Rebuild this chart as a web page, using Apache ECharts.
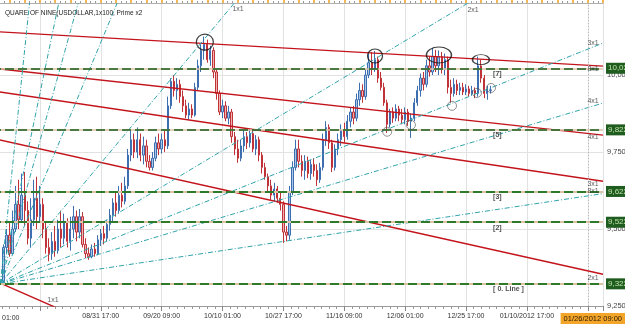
<!DOCTYPE html>
<html><head><meta charset="utf-8">
<script src="https://cdn.jsdelivr.net/npm/echarts@6/dist/echarts.min.js"></script>
<style>html,body{margin:0;padding:0;background:#fff}#c{width:625px;height:324px}</style>
</head><body><div id="c"></div>
<script>
// ---------- data ----------
const firstBar = 8;
// [open, close, low, high]
const candles = [
[9330,9440,9322,9450],[9440,9480,9420,9500],[9480,9420,9410,9520],[9420,9500,9415,9560],[9500,9580,9490,9640],
[9580,9530,9500,9660],[9530,9610,9520,9680],[9610,9560,9510,9685],[9560,9470,9450,9590],[9470,9530,9440,9600],
[9530,9600,9510,9660],[9600,9540,9500,9670],[9540,9580,9520,9640],[9580,9500,9470,9600],[9500,9440,9420,9520],
[9440,9420,9395,9470],[9420,9460,9400,9490],[9460,9430,9410,9510],[9430,9500,9420,9530],[9500,9470,9440,9560],
[9470,9520,9450,9550],[9520,9460,9440,9535],[9460,9500,9430,9540],[9500,9540,9470,9575],[9540,9490,9460,9560],
[9490,9540,9470,9565],[9540,9450,9440,9555],[9450,9420,9405,9470],[9420,9410,9400,9440],[9410,9435,9405,9450],
[9435,9420,9410,9455],[9420,9465,9415,9480],[9465,9485,9445,9500],[9485,9470,9450,9510],[9470,9515,9460,9530],
[9515,9545,9495,9565],[9545,9585,9525,9600],[9585,9560,9540,9620],[9560,9610,9550,9640],[9610,9590,9570,9650],
[9590,9640,9580,9670],[9640,9740,9630,9760],[9740,9790,9720,9820],[9790,9750,9730,9810],[9750,9790,9730,9830],
[9790,9740,9720,9810],[9740,9770,9710,9800],[9770,9720,9700,9790],[9720,9700,9690,9740],[9700,9730,9690,9750],
[9730,9780,9720,9800],[9780,9760,9740,9810],[9760,9790,9745,9810],[9790,9770,9750,9820],[9770,9900,9760,9930],
[9900,9980,9890,9990],[9980,9950,9930,10000],[9950,9970,9920,9990],[9970,9930,9910,9985],[9930,9900,9880,9950],
[9900,9870,9860,9920],[9870,9890,9855,9910],[9890,9870,9860,9905],[9870,9960,9865,9975],[9960,10030,9950,10050],
[10030,10080,10010,10100],[10080,10100,10050,10125],[10100,10050,10040,10115],[10050,10080,10030,10095],[10080,10010,9990,10090],
[10010,9940,9920,10020],[9940,9880,9870,9950],[9880,9900,9860,9920],[9900,9860,9850,9915],[9860,9880,9840,9900],
[9880,9800,9780,9890],[9800,9760,9740,9815],[9760,9730,9715,9790],[9730,9770,9720,9790],[9770,9800,9750,9820],
[9800,9780,9760,9815],[9780,9810,9765,9825],[9810,9760,9750,9820],[9760,9790,9740,9805],[9790,9740,9720,9800],
[9740,9700,9680,9750],[9700,9670,9660,9715],[9670,9640,9620,9680],[9640,9610,9595,9660],[9610,9630,9590,9650],
[9630,9600,9585,9640],[9600,9580,9560,9620],[9580,9490,9455,9590],[9490,9480,9460,9510],[9480,9620,9465,9640],
[9620,9700,9610,9720],[9700,9760,9690,9790],[9760,9720,9700,9790],[9720,9690,9670,9740],[9690,9720,9660,9740],
[9720,9680,9665,9735],[9680,9710,9660,9725],[9710,9690,9670,9730],[9690,9660,9640,9710],[9660,9700,9650,9715],
[9700,9790,9690,9810],[9790,9830,9770,9850],[9830,9780,9760,9840],[9780,9700,9685,9790],[9700,9760,9690,9775],
[9760,9790,9740,9810],[9790,9820,9770,9840],[9820,9800,9780,9845],[9800,9850,9790,9870],[9850,9880,9830,9895],
[9880,9860,9840,9900],[9860,9920,9850,9940],[9920,9950,9900,9975],[9950,9930,9910,9970],[9930,10000,9920,10020],
[10000,10040,9990,10070],[10040,10020,10000,10075],[10020,10050,10010,10078],[10050,9990,9975,10060],[9990,9960,9950,10010],
[9960,9910,9900,9975],[9910,9840,9812,9920],[9840,9880,9830,9890],[9880,9860,9845,9895],[9860,9890,9850,9905],
[9890,9870,9850,9900],[9870,9855,9840,9890],[9855,9880,9840,9895],[9880,9850,9835,9890],[9850,9860,9796,9875],
[9860,9910,9850,9925],[9910,9950,9900,9965],[9950,9990,9930,10005],[9990,9970,9950,10010],[9970,10030,9960,10050],
[10030,10010,9995,10060],[10010,10060,10000,10088],[10060,10030,10010,10082],[10030,10060,10000,10080],[10060,10020,10005,10075],
[10020,10050,10000,10070],[10050,9960,9940,10060],[9960,9940,9910,9985],[9940,9970,9930,9990],[9970,9950,9935,9985],
[9950,9960,9935,9975],[9960,9945,9935,9975],[9945,9955,9935,9970],[9955,9940,9930,9965],[9940,9950,9935,9965],
[9950,9940,9925,9960],[9940,10030,9930,10060],[10030,9990,9975,10050],[9990,9940,9925,10000],[9940,9950,9920,9965],
[9950,9952,9940,9965]
];
const xTickIndex = [40,60,80,100,120,140,160,180];
const xTickText = ['08/31 17:00','09/20 09:00','10/10 01:00','10/27 17:00','11/16 09:00','12/06 01:00','12/25 17:00','01/10/2012 17:00'];
const levels = [10022, 9822, 9622, 9522, 9322];
const levelTags = ['[7]','[5]','[3]','[2]','[ 0. Line ]'];
const lastPrice = 9952;
const rangeHigh = 10216;
// descending (red) fan: value at index 0 and index 205
const redFanNames = ['8x1','4x1','3x1','2x1','1x1'];
const redFanStart = [10144, 10027, 9955, 9804, 9355];
const redFanEnd   = [10029, 9805, 9655, 9353, 8462];
// ascending (teal) fan from the low
const tealOrigin = [7, 9322];
const tealFanNames = ['1x8','1x4','1x3','1x2','1x1','2x1','3x1','4x1','8x1'];
const tealFanEnd = [[16.6,10234],[26.2,10234],[32.6,10234],[45.4,10234],[83.9,10234],[160.7,10234],[205,10104],[205,9909],[205,9615]];
// annotations
const peakRings = [[74.2,10107],[130.1,10062],[151.1,10065],[164.9,10050]];
const peakRingSize = [[17,16],[15,14],[25,16],[17,10]];
const lowRings = [[134.1,9816],[141.9,9838],[155.4,9900],[163.6,9942],[168.2,9958]];
const rightTags = ['3x1','8x1','4x1','4x1','3x1','8x1','2x1'];
const rightTagVals = [10104,10020,9916,9799,9646,9624,9341];
const topTags = [['1x1',85.1,10213],['2x1',162.3,10211],['1x1',24.3,9270]];

// ---------- chart ----------
const FONT = 'Liberation Sans';
const fmt = v => String(Math.round(v)).replace(/\B(?=(\d{3})+(?!\d))/g, ',');
const chart = echarts.init(document.getElementById('c'), null, {renderer:'canvas'});
const series = [];

series.push({
  type:'candlestick', name:'USDOLLAR', z:3,
  data: candles.map((d,k)=>[firstBar+k, d[0], d[1], d[2], d[3]]),
  barWidth: 1.8,
  itemStyle:{color:'#a9c6e8', color0:'#f2b3b3', borderColor:'#3d6eb0', borderColor0:'#bf3338', borderWidth:1}
});

redFanNames.forEach((n,k)=>{
  series.push({type:'line', name:'red '+n, z:4, showSymbol:false, silent:true, animation:false,
    data:[[0, redFanStart[k]],[205, redFanEnd[k]]],
    lineStyle:{color:'#c3141c', width:1.4}});
});
tealFanNames.forEach((n,k)=>{
  series.push({type:'line', name:'teal '+n, z:4, showSymbol:false, silent:true, animation:false,
    data:[tealOrigin, tealFanEnd[k]],
    lineStyle:{color:'#2fa3aa', width:1, type:[5,2,1,2]}});
});

// level lines: beige base + green dashes with price boxes
series.push({type:'line', data:[], z:2, silent:true, markLine:{silent:true, symbol:['none','none'], animation:false,
  label:{show:false},
  data: levels.map((v,k)=>({yAxis:v, lineStyle:{color:'#dcc3a6', width:k<2?1.5:2, type:'solid'}}))}});
series.push({type:'line', data:[], z:5, silent:true, markLine:{silent:true, symbol:['none','none'], animation:false,
  data: levels.map((v,k)=>({yAxis:v,
    lineStyle:{color:k<2?'#1a5c1a':'#2f7a2a', width:k<2?1.5:2, type:[9,4]},
    label:{show:true, position:'end', distance:3, formatter:fmt(v), color:'#bfe0a8', backgroundColor:'#1f5c1f',
      padding:[2,2,1,2], fontSize:8, fontFamily:FONT}}))}});
// price markers
series.push({type:'line', data:[], z:6, silent:true, markLine:{silent:true, symbol:['none','none'], animation:false,
  data:[
    {yAxis:lastPrice, lineStyle:{opacity:0}, label:{show:true, position:'end', distance:3, formatter:fmt(lastPrice),
      color:'#133d82', backgroundColor:'#84cdf2', padding:[2,2,1,2], fontSize:8, fontFamily:FONT}},
    {yAxis:rangeHigh, lineStyle:{opacity:0}, label:{show:true, position:'end', distance:3, formatter:fmt(rangeHigh),
      color:'#3a2a00', backgroundColor:'#f3a52a', padding:[2,2,1,2], fontSize:8, fontFamily:FONT}},
    {xAxis:200, lineStyle:{color:'#b8b8b8', width:1, type:[1,2]}, label:{show:false}}
  ]}});

// rings
series.push({type:'scatter', z:7, silent:true, animation:false,
  data: peakRings.map((p,k)=>({value:p, symbolSize:peakRingSize[k]})),
  symbol:'circle', itemStyle:{color:'rgba(0,0,0,0)', borderColor:'#111', borderWidth:1.2}});
series.push({type:'scatter', z:7, silent:true, animation:false,
  data: lowRings, symbol:'circle', symbolSize:9,
  itemStyle:{color:'rgba(0,0,0,0)', borderColor:'#555', borderWidth:0.8}});

// text tags
series.push({type:'scatter', z:8, silent:true, animation:false, symbolSize:0,
  data: rightTags.map((t,k)=>({value:[203.6, rightTagVals[k]], label:{show:true, formatter:t}})),
  label:{position:'left', distance:0, fontSize:7, color:'#333', fontFamily:FONT}});
series.push({type:'scatter', z:8, silent:true, animation:false, symbolSize:0,
  data: topTags.map(t=>({value:[t[1],t[2]], label:{show:true, formatter:t[0]}})),
  label:{position:'inside', fontSize:7, color:'#333', fontFamily:FONT}});
series.push({type:'scatter', z:8, silent:true, animation:false, symbolSize:0,
  data: levels.map((v,k)=>({value:[168.9, v], label:{show:true, formatter:levelTags[k]}})),
  label:{position:[0,2], fontSize:7, fontWeight:'bold', color:'#222', fontFamily:FONT}});

const option = {
  animation:false,
  backgroundColor:'#ffffff',
  textStyle:{fontFamily:FONT},
  title:{text:'QUARE OF NINE(USDOLLAR,1x100, Prime x2', left:0, top:5,
    textStyle:{fontSize:6.5, fontWeight:'normal', color:'#222', fontFamily:FONT}},
  grid:{left:-21, right:22, top:3, bottom:18, containLabel:false, outerBoundsMode:'none'},
  xAxis:[{
    type:'value', min:0, max:205, interval:20, position:'bottom',
    axisLine:{show:true, onZero:false, lineStyle:{color:'#9a9a9a'}},
    axisTick:{show:true, length:5, lineStyle:{color:'#888'}},
    minorTick:{show:true, splitNumber:8, length:3, lineStyle:{color:'#999'}},
    splitLine:{show:true, lineStyle:{color:'#e2e2e2', width:1}},
    axisLabel:{interval:0, margin:7, fontSize:7, color:'#333', fontFamily:FONT,
      formatter:v=>{const k=xTickIndex.indexOf(Math.round(v)); return (k>=0 && Math.abs(v-Math.round(v))<1e-6)?xTickText[k]:'';}}
  },{
    type:'value', min:0, max:205, interval:5, position:'top',
    axisLine:{show:true, onZero:false, lineStyle:{color:'#b0b0b0'}},
    axisTick:{show:true, length:3, lineStyle:{color:'#f0a020', width:1.5}},
    minorTick:{show:true, splitNumber:3, length:2, lineStyle:{color:'#999'}},
    splitLine:{show:false}, axisLabel:{show:false}
  }],
  yAxis:{
    type:'value', position:'right', min:9250, max:10234, interval:250,
    axisLine:{show:true, lineStyle:{color:'#9a9a9a'}},
    axisTick:{show:true, length:5, lineStyle:{color:'#888'}},
    minorTick:{show:true, splitNumber:5, length:3, lineStyle:{color:'#999'}},
    splitLine:{show:true, lineStyle:{color:'#e2e2e2'}},
    axisLabel:{margin:4, fontSize:7.5, color:'#444', fontFamily:FONT,
      formatter:v=>(Math.abs(v/250-Math.round(v/250))<1e-6?fmt(v):'')}
  },
  graphic:[
    {type:'text', left:2, top:315, style:{text:'01:00', font:'7px "Liberation Sans"', fill:'#333'}},
    {type:'text', right:0, top:313, z:10, style:{text:'01/26/2012 09:00', font:'7.5px "Liberation Sans"', fill:'#2a1a00',
      backgroundColor:'#f3a52a', padding:[2,3,2,3]}}
  ],
  series: series
};
chart.setOption(option);
</script></body></html>
